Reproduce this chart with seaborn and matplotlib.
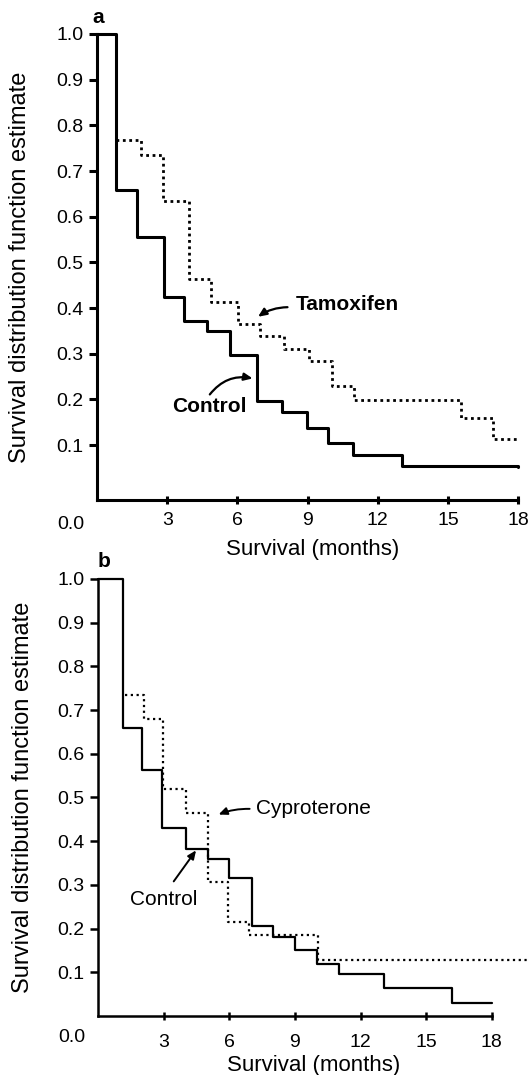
import numpy as np
import pandas as pd
import seaborn as sns
import matplotlib
matplotlib.use('Agg')
import matplotlib.pyplot as plt

# panel a: control vs tamoxifen (step times in months, survival estimate after step)
a_control_t = [0, 0.79, 1.69, 2.86, 3.70, 4.72, 5.67, 6.83, 7.89, 8.97, 9.89, 10.94, 13.03, 18]
a_control_s = [1.0, 0.658, 0.555, 0.425, 0.372, 0.349, 0.298, 0.196, 0.172, 0.137, 0.105, 0.078, 0.055, 0.052]
a_tamox_t = [0.79, 1.86, 2.81, 3.92, 4.89, 6.01, 6.95, 7.98, 9.06, 10.06, 11.0, 15.56, 16.93, 18]
a_tamox_s = [0.767, 0.735, 0.634, 0.463, 0.414, 0.366, 0.339, 0.311, 0.285, 0.230, 0.199, 0.159, 0.113, 0.113]

# panel b: control vs cyproterone
b_control_t = [0, 1.16, 2.01, 2.93, 4.02, 5.02, 5.97, 7.05, 8.01, 9.0, 10.0, 11.0, 13.09, 16.17, 18]
b_control_s = [1.0, 0.658, 0.562, 0.431, 0.382, 0.360, 0.315, 0.207, 0.180, 0.152, 0.118, 0.097, 0.065, 0.030, 0.030]
b_cypro_t = [1.23, 2.09, 2.96, 4.02, 5.04, 5.94, 6.92, 10.05, 19.7]
b_cypro_s = [0.735, 0.680, 0.520, 0.465, 0.307, 0.215, 0.186, 0.129, 0.129]

x_ticks = [3, 6, 9, 12, 15, 18]
y_ticks = [0.1, 0.2, 0.3, 0.4, 0.5, 0.6, 0.7, 0.8, 0.9, 1.0]

sns.set_style('white')
plt.rcParams['font.family'] = ['Liberation Sans', 'DejaVu Sans']
plt.rcParams['text.color'] = 'black'
plt.rcParams['axes.labelcolor'] = 'black'
plt.rcParams['xtick.color'] = 'black'
plt.rcParams['ytick.color'] = 'black'

fig = plt.figure(figsize=(5.29, 10.75), dpi=100)
ax_a = fig.add_axes([0.1834, 0.5349, 0.8166, 0.4335])
ax_b = fig.add_axes([0.1853, 0.0549, 0.8147, 0.4065])


def style_axis(ax, xmax, ymin, lw, xpad, xlabelpad, zero_dy):
    ax.set_xlim(0, xmax)
    ax.set_ylim(ymin, 1.0)
    for side in ['top', 'right']:
        ax.spines[side].set_visible(False)
    for side in ['left', 'bottom']:
        ax.spines[side].set_color('black')
        ax.spines[side].set_linewidth(lw)
    ax.spines['bottom'].set_bounds(0, 18)
    ax.set_xticks(x_ticks)
    ax.set_xticklabels([str(t) for t in x_ticks])
    ax.set_yticks(y_ticks)
    ax.set_yticklabels(['%.1f' % t for t in y_ticks])
    ax.tick_params(axis='x', bottom=True, direction='inout', length=6, width=lw, pad=xpad, labelsize=14)
    ax.tick_params(axis='y', left=True, direction='out', length=6, width=lw, pad=4, labelsize=14)
    ax.set_xlabel('Survival (months)', fontsize=16, labelpad=xlabelpad)
    ax.set_ylabel('Survival distribution function estimate', fontsize=17)
    ax.annotate('0.0', xy=(0, 0), xycoords='axes fraction', xytext=(-26, zero_dy),
                textcoords='offset pixels', ha='center', va='center', fontsize=14)
    ax.patch.set_alpha(0)


def arrow(ax, head, tail, lw, rad):
    ax.annotate('', xy=head, xytext=tail,
                arrowprops=dict(arrowstyle='-|>,head_length=0.5,head_width=0.22', color='black',
                                lw=lw, connectionstyle='arc3,rad=%s' % rad, shrinkA=0, shrinkB=0))


# panel a
sns.lineplot(x=a_control_t, y=a_control_s, drawstyle='steps-post', color='black',
             linewidth=2.2, estimator=None, sort=False, ax=ax_a)
sns.lineplot(x=a_tamox_t, y=a_tamox_s, drawstyle='steps-post', color='black',
             linewidth=2.0, linestyle=(0, (1, 1.3)), estimator=None, sort=False, ax=ax_a)
style_axis(ax_a, 18.46, -0.02, 2.2, 6, 7, -25)
ax_a.yaxis.set_label_coords(-0.153, 0.5)
for ln in ax_a.get_lines():
    ln.set_clip_on(False)

ax_a.text(8.5, 0.408, 'Tamoxifen', fontsize=15, fontweight='bold', ha='left', va='center')
arrow(ax_a, (6.88, 0.381), (8.14, 0.402), 1.6, 0.15)
ax_a.text(3.22, 0.185, 'Control', fontsize=15, fontweight='bold', ha='left', va='center')
arrow(ax_a, (6.65, 0.246), (4.82, 0.211), 1.6, -0.3)
ax_a.text(-0.01, 1.035, 'a', transform=ax_a.transAxes, fontsize=15, fontweight='bold',
          ha='left', va='center')

# panel b
sns.lineplot(x=b_control_t, y=b_control_s, drawstyle='steps-post', color='black',
             linewidth=1.6, estimator=None, sort=False, ax=ax_b)
sns.lineplot(x=b_cypro_t, y=b_cypro_s, drawstyle='steps-post', color='black',
             linewidth=1.6, linestyle=(0, (1, 1.6)), estimator=None, sort=False, ax=ax_b)
style_axis(ax_b, 19.7, 0.0, 1.8, 10, 3, -22)
ax_b.yaxis.set_label_coords(-0.148, 0.5)
for ln in ax_b.get_lines():
    ln.set_clip_on(False)

ax_b.text(7.23, 0.475, 'Cyproterone', fontsize=15, ha='left', va='center')
arrow(ax_b, (5.51, 0.461), (6.93, 0.474), 1.4, 0.1)
ax_b.text(1.48, 0.266, 'Control', fontsize=15, ha='left', va='center')
arrow(ax_b, (4.48, 0.379), (3.46, 0.308), 1.4, 0)
ax_b.text(0.0, 1.04, 'b', transform=ax_b.transAxes, fontsize=15, fontweight='bold',
          ha='left', va='center')

fig.savefig('out.png', dpi=100)
